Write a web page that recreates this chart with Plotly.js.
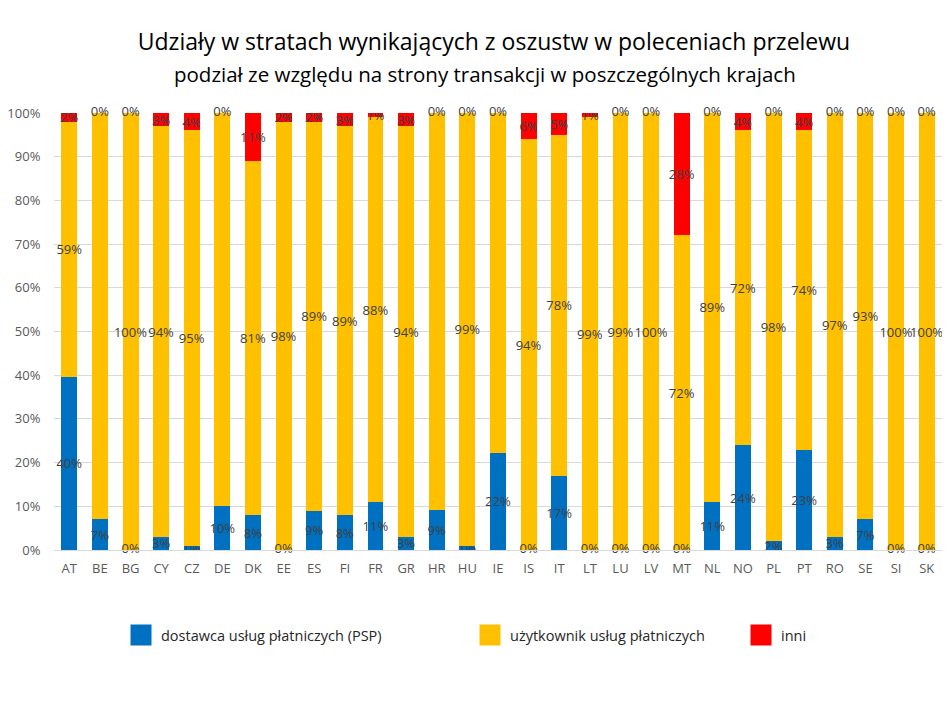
<!DOCTYPE html>
<html>
<head>
<meta charset="utf-8">
<script src="https://cdn.plot.ly/plotly-3.0.1.min.js"></script>
<style>html,body{margin:0;padding:0;background:#fff;}#chart{width:948px;height:720px;}</style>
</head>
<body>
<div id="chart"></div>
<script>
const countries = ["AT","BE","BG","CY","CZ","DE","DK","EE","ES","FI","FR","GR","HR","HU","IE","IS","IT","LT","LU","LV","MT","NL","NO","PL","PT","RO","SE","SI","SK"];
const psp   = [40, 7, 0, 3, 1, 10, 8, 0, 9, 8, 11, 3, 9, 1, 22, 0, 17, 0, 0, 0, 0, 11, 24, 2, 23, 3, 7, 0, 0];
const users = [59, 92, 100, 94, 95, 89, 81, 98, 89, 89, 88, 94, 90, 99, 77, 94, 78, 99, 99, 100, 72, 89, 72, 98, 74, 97, 93, 100, 100];
const others= [2, 0, 0, 3, 4, 0, 11, 2, 2, 3, 1, 3, 0, 0, 0, 6, 5, 1, 0, 0, 28, 0, 4, 0, 4, 0, 0, 0, 0];
const seriesNames = ["dostawca usług płatniczych (PSP)", "użytkownik usług płatniczych", "inni"];
const yTickVals = [0,10,20,30,40,50,60,70,80,90,100];
const yTickText = ["0%","10%","20%","30%","40%","50%","60%","70%","80%","90%","100%"];
const mainTitle = "Udziały w stratach wynikających z oszustw w poleceniach przelewu";
const subTitle = "podział ze względu na strony transakcji w poszczególnych krajach";

const colors = ["#0070C0", "#FFC000", "#FF0000"];
const font = "'Open Sans', 'Noto Sans', sans-serif";
const labelFont = {family: font, size: 13, color: "#404040"};
const seriesVals = [psp, users, others];
const legendIds = ["legend", "legend2", "legend3"];

// stacked bars (values normalised to 100% per country, like a 100% stacked chart)
const barTraces = seriesVals.map((vals, i) => ({
  type: "bar",
  name: seriesNames[i],
  x: countries,
  y: vals,
  text: vals.map(v => v + "%"),
  texttemplate: "%{text}",
  textposition: "inside",
  insidetextanchor: "middle",
  textangle: 0,
  constraintext: "none",
  insidetextfont: labelFont,
  marker: {color: colors[i], line: {width: 0}},
  showlegend: false,
  hoverinfo: "x+y+name"
}));

// labels for zero-height segments: bottom segment sits on 0%, top segment on 100%
const zeroBottom = countries.filter((c, i) => psp[i] === 0);
const zeroTop = countries.filter((c, i) => others[i] === 0);
const zeroLabelTraces = [
  {type: "scatter", mode: "text", x: zeroBottom, y: zeroBottom.map(() => 0),
   text: zeroBottom.map(() => "0%"), textposition: "middle center",
   textfont: labelFont, cliponaxis: false, showlegend: false, hoverinfo: "skip"},
  {type: "scatter", mode: "text", x: zeroTop, y: zeroTop.map(() => 100),
   text: zeroTop.map(() => "0%"), textposition: "middle center",
   textfont: labelFont, cliponaxis: false, showlegend: false, hoverinfo: "skip"}
];

// legend entries (square swatches)
const legendTraces = seriesNames.map((n, i) => ({
  type: "scatter", mode: "markers", name: n,
  x: [null], y: [null],
  marker: {symbol: "square", size: 16, color: colors[i], line: {width: 5, color: colors[i]}},
  legend: legendIds[i], showlegend: true, hoverinfo: "skip"
}));

const legendBase = {
  orientation: "h", yanchor: "middle", xanchor: "left",
  itemsizing: "trace",
  font: {family: font, size: 14.5, color: "#262626"},
  bgcolor: "rgba(0,0,0,0)"
};
const legY = (550 - 635) / 437;

const layout = {
  width: 948, height: 720,
  margin: {l: 54, r: 6, t: 113, b: 170},
  paper_bgcolor: "#ffffff", plot_bgcolor: "#ffffff",
  barmode: "stack",
  barnorm: "percent",
  bargap: 0.48,
  uniformtext: {mode: "show", minsize: 13},
  font: {family: font, color: "#595959"},
  title: {
    text: mainTitle,
    x: 494/948, xanchor: "center", xref: "container",
    y: 1 - 42/720, yanchor: "middle", yref: "container",
    font: {family: font, size: 23, color: "#000000"}
  },
  annotations: [{
    text: subTitle, xref: "paper", yref: "paper",
    x: (485-54)/888, y: (550-74)/437, xanchor: "center", yanchor: "middle",
    showarrow: false, font: {family: font, size: 20.5, color: "#000000"}
  }],
  xaxis: {
    type: "category",
    range: [-0.5, countries.length - 0.5],
    tickfont: {family: font, size: 13, color: "#595959"},
    ticks: "outside", ticklen: 6, tickcolor: "rgba(0,0,0,0)",
    showline: true, linecolor: "#D9D9D9", linewidth: 1,
    showgrid: false, fixedrange: true
  },
  yaxis: {
    range: [0, 100],
    tickvals: yTickVals, ticktext: yTickText,
    tickfont: {family: font, size: 13, color: "#595959"},
    ticks: "outside", ticklen: 10, tickcolor: "rgba(0,0,0,0)",
    showgrid: true, gridcolor: "#D9D9D9", gridwidth: 1,
    zeroline: false, showline: false, fixedrange: true
  },
  legend:  Object.assign({}, legendBase, {x: (121-54)/888, y: legY}),
  legend2: Object.assign({}, legendBase, {x: (470-54)/888, y: legY}),
  legend3: Object.assign({}, legendBase, {x: (741-54)/888, y: legY}),
  showlegend: true
};

Plotly.newPlot("chart", barTraces.concat(zeroLabelTraces, legendTraces), layout, {displayModeBar: false});
</script>
</body>
</html>
